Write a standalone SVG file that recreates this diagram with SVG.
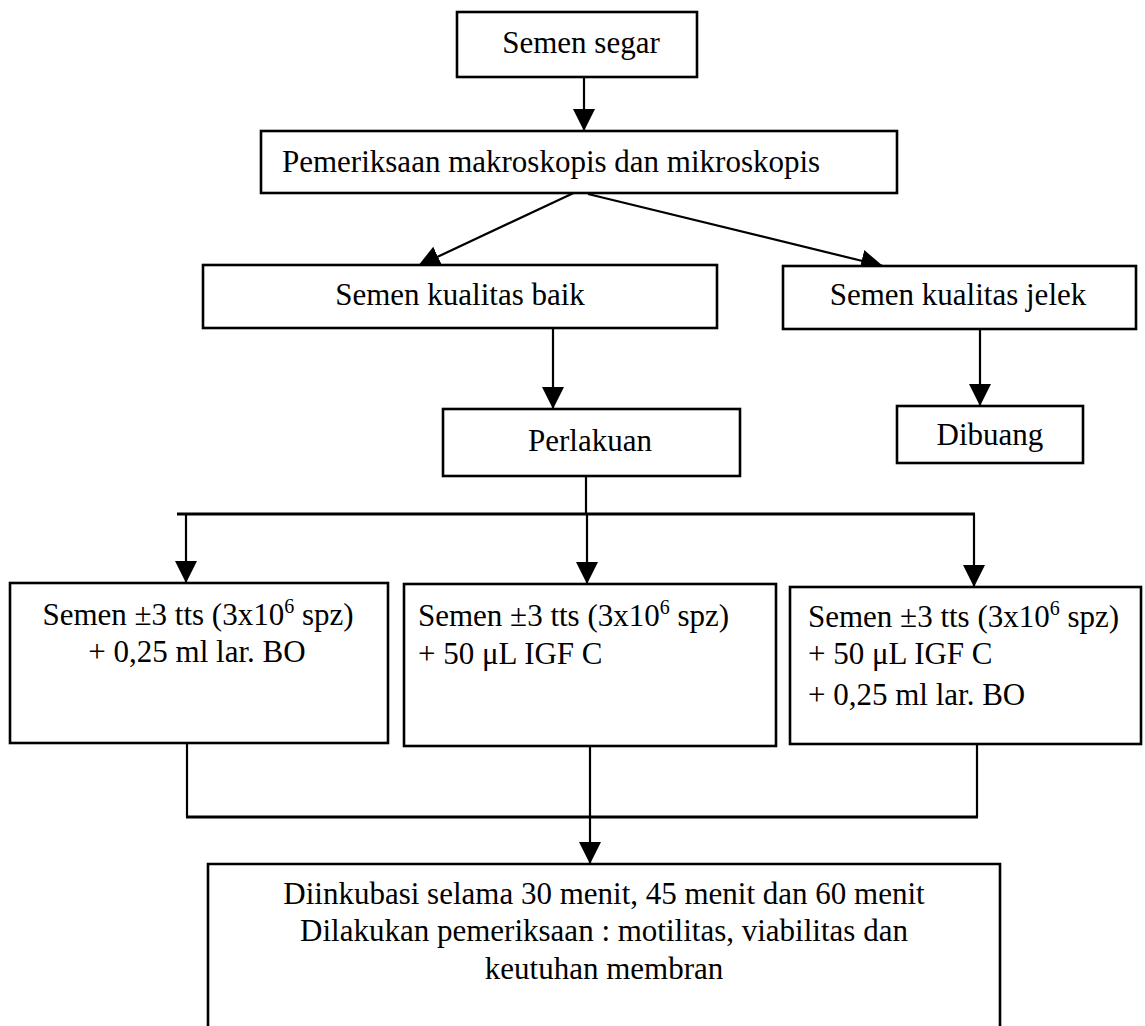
<svg xmlns="http://www.w3.org/2000/svg" width="1145" height="1026" viewBox="0 0 1145 1026">
<style>
.box{fill:#fff;stroke:#000;stroke-width:2.6}
.t{font-family:"Liberation Serif","Times New Roman",serif;font-size:31px;fill:#000}
.c{text-anchor:middle}
.ln{fill:none;stroke:#000;stroke-width:2.2}
.sup{font-size:20px}
</style>
<defs>
<marker id="ah" markerUnits="userSpaceOnUse" markerWidth="24" markerHeight="24" viewBox="0 0 24 24" refX="22" refY="12" orient="auto">
<path d="M0,1 L22,12 L0,23 Z" fill="#000"/>
</marker>
</defs>
<rect width="1145" height="1026" fill="#fff"/>
<g id="connectors">
<line class="ln" x1="584" y1="77" x2="584" y2="131" marker-end="url(#ah)"/>
<line class="ln" x1="580" y1="190" x2="418" y2="266" marker-end="url(#ah)"/>
<line class="ln" x1="588" y1="194" x2="883" y2="266" marker-end="url(#ah)"/>
<line class="ln" x1="553" y1="328" x2="553" y2="409" marker-end="url(#ah)"/>
<line class="ln" x1="980" y1="329" x2="980" y2="406" marker-end="url(#ah)"/>
<line class="ln" x1="586" y1="476" x2="586" y2="514"/>
<line class="ln" x1="177" y1="514" x2="975" y2="514" style="stroke-width:3"/>
<line class="ln" x1="186" y1="514" x2="186" y2="583" marker-end="url(#ah)"/>
<line class="ln" x1="587" y1="514" x2="587" y2="584" marker-end="url(#ah)"/>
<line class="ln" x1="974" y1="514" x2="974" y2="587" marker-end="url(#ah)"/>
<line class="ln" x1="187" y1="743" x2="187" y2="817"/>
<line class="ln" x1="977" y1="743" x2="977" y2="817"/>
<line class="ln" x1="186" y1="817" x2="978" y2="817" style="stroke-width:3"/>
<line class="ln" x1="590" y1="746" x2="590" y2="864" marker-end="url(#ah)"/>
</g>
<g id="n1">
<rect class="box" x="457" y="12" width="240" height="65"/>
<text class="t c" x="581" y="53">Semen segar</text>
</g>
<g id="n2">
<rect class="box" x="261" y="131" width="636" height="62"/>
<text class="t" x="282" y="172">Pemeriksaan makroskopis dan mikroskopis</text>
</g>
<g id="n3">
<rect class="box" x="203" y="265" width="514" height="63"/>
<text class="t c" x="460" y="305">Semen kualitas baik</text>
</g>
<g id="n4">
<rect class="box" x="783" y="266" width="353" height="63"/>
<text class="t c" x="958" y="305">Semen kualitas jelek</text>
</g>
<g id="n5">
<rect class="box" x="443" y="409" width="297" height="67"/>
<text class="t c" x="590" y="451">Perlakuan</text>
</g>
<g id="n6">
<rect class="box" x="897" y="406" width="186" height="57"/>
<text class="t c" x="990" y="445">Dibuang</text>
</g>
<g id="n7">
<rect class="box" x="10" y="583" width="378" height="160"/>
<text class="t c" x="198" y="625">Semen ±3 tts (3x10<tspan class="sup" dy="-12">6</tspan><tspan dy="12"> spz)</tspan></text>
<text class="t c" x="197" y="662">+ 0,25 ml lar. BO</text>
</g>
<g id="n8">
<rect class="box" x="404" y="584" width="372" height="162"/>
<text class="t" x="418" y="626">Semen ±3 tts (3x10<tspan class="sup" dy="-12">6</tspan><tspan dy="12"> spz)</tspan></text>
<text class="t" x="418" y="664">+ 50 μL IGF C</text>
</g>
<g id="n9">
<rect class="box" x="790" y="587" width="351" height="157"/>
<text class="t" x="808" y="627">Semen ±3 tts (3x10<tspan class="sup" dy="-12">6</tspan><tspan dy="12"> spz)</tspan></text>
<text class="t" x="808" y="664">+ 50 μL IGF C</text>
<text class="t" x="808" y="705">+ 0,25 ml lar. BO</text>
</g>
<g id="n10">
<path class="box" d="M208,1030 L208,864 L1000,864 L1000,1030"/>
<text class="t c" x="604" y="904">Diinkubasi selama 30 menit, 45 menit dan 60 menit</text>
<text class="t c" x="604" y="941">Dilakukan pemeriksaan : motilitas, viabilitas dan</text>
<text class="t c" x="604" y="979">keutuhan membran</text>
</g>
</svg>
